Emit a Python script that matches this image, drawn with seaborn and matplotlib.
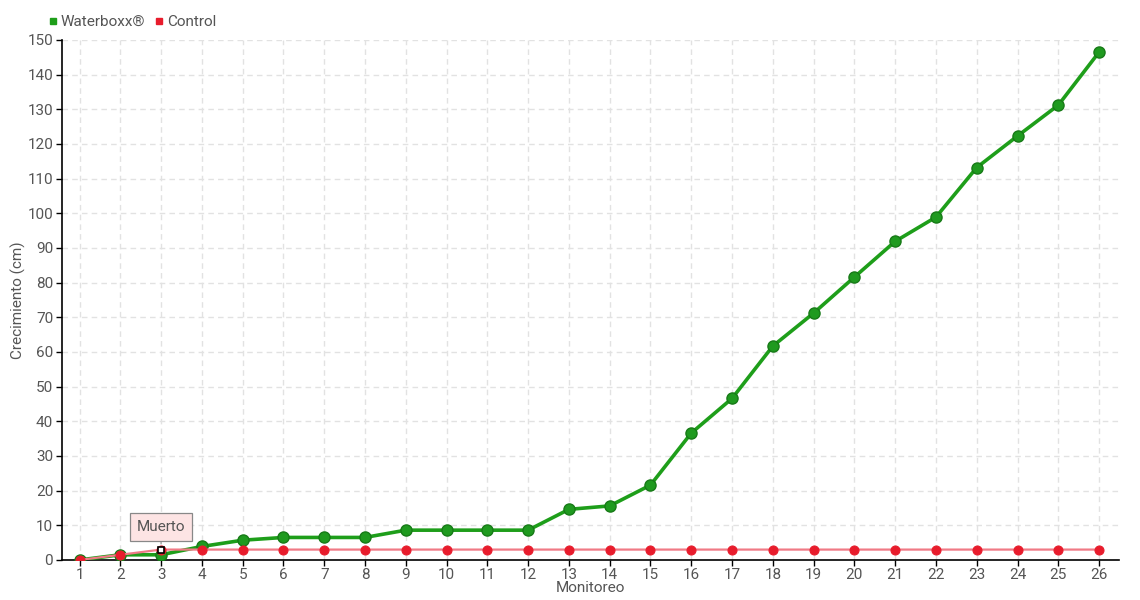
import matplotlib.pyplot as plt
import seaborn as sns
import pandas as pd
from matplotlib.lines import Line2D

# Data
monitoreo = list(range(1, 27))
waterboxx = [0, 1.5, 1.5, 3.9, 5.7, 6.5, 6.5, 6.5, 8.6, 8.6, 8.6, 8.6, 14.6,
             15.6, 21.6, 36.6, 46.6, 61.7, 71.2, 81.6, 91.9, 98.9, 113.2,
             122.3, 131.2, 146.5]
control = [0, 1.5, 3] + [3] * 23
series_names = ['Waterboxx®', 'Control']
muerto_idx = 3

df = pd.DataFrame({'Monitoreo': monitoreo * 2,
                   'Crecimiento': waterboxx + control,
                   'Serie': [series_names[0]] * 26 + [series_names[1]] * 26})

sns.set_style('white')
plt.rcParams['font.family'] = ['Roboto', 'DejaVu Sans']
txt = '#555555'

fig = plt.figure(figsize=(11.4, 6), dpi=100)
ax = fig.add_axes([0.054, 0.0667, 0.928, 0.8667])

green = '#1e9e1a'
red = '#e81c2c'

wb = df[df['Serie'] == series_names[0]]
ct = df[df['Serie'] == series_names[1]]

sns.lineplot(data=wb, x='Monitoreo', y='Crecimiento', color=green, lw=2.6,
             marker='o', markersize=8, markerfacecolor='#1f9a1f',
             markeredgecolor='#177a17', markeredgewidth=1, ax=ax, zorder=3)
sns.lineplot(data=ct, x='Monitoreo', y='Crecimiento', color='#f07a86', lw=1.6,
             marker='o', markersize=6.5, markerfacecolor=red,
             markeredgecolor=red, ax=ax, zorder=4)

# dead plant marker
ax.plot(muerto_idx, control[muerto_idx - 1], 's', ms=5, mfc='white',
        mec='black', mew=1.2, zorder=6)
ax.annotate('Muerto', xy=(muerto_idx, control[muerto_idx - 1]),
            xytext=(0, 16), textcoords='offset points', ha='center',
            va='center', fontsize=11, color=txt, zorder=7,
            bbox=dict(boxstyle='square,pad=0.45', fc='#fde4e4', ec='#888888',
                      lw=0.9),
            arrowprops=dict(arrowstyle='-', color='#888888', lw=0.8,
                            shrinkA=0, shrinkB=4))

ax.set_xlim(0.56, 26.5)
ax.set_ylim(0, 150)
ax.set_xticks(monitoreo)
ax.set_yticks(range(0, 151, 10))
ax.grid(True, color='#e2e2e2', ls=(0, (4, 3)), lw=1)
for s in ['top', 'right']:
    ax.spines[s].set_visible(False)
for s in ['left', 'bottom']:
    ax.spines[s].set_color('black')
    ax.spines[s].set_linewidth(1.2)
ax.tick_params(axis='both', colors='black', labelcolor=txt, labelsize=11,
               length=4, width=1, direction='out', pad=2)
ax.tick_params(left=True, bottom=True)

ax.set_xlabel('Monitoreo', fontsize=11, color=txt, labelpad=-1)
ax.set_ylabel('Crecimiento (cm)', fontsize=11, color=txt, labelpad=1)

# legend
if ax.get_legend():
    ax.get_legend().remove()
handles = [Line2D([], [], ls='', marker='s', ms=5, color=green),
           Line2D([], [], ls='', marker='s', ms=5, color=red)]
fig.legend(handles, series_names, loc='center left',
           bbox_to_anchor=(0.036, 0.963), ncol=2, frameon=False,
           handlelength=0.6, handletextpad=0.2, columnspacing=0.6,
           borderpad=0, fontsize=11, labelcolor=txt)

fig.savefig('out.png', dpi=100)
